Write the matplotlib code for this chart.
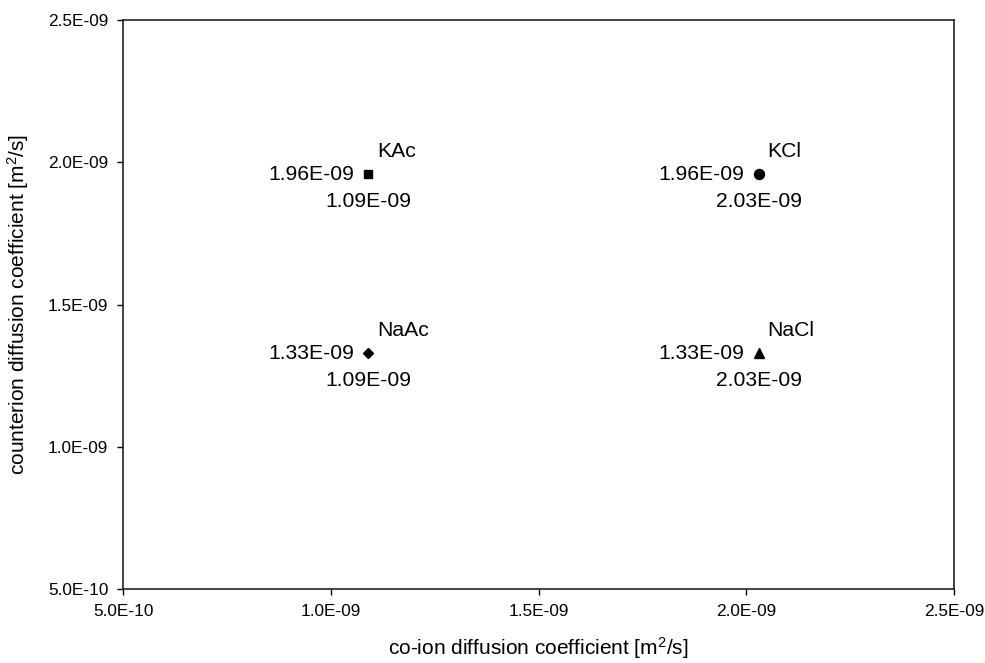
import matplotlib
matplotlib.use("Agg")
import matplotlib.pyplot as plt

plt.rcParams['font.family'] = ['Liberation Sans', 'DejaVu Sans']
plt.rcParams['mathtext.default'] = 'regular'

names = ["KAc", "KCl", "NaAc", "NaCl"]
coion = [1.09e-9, 2.03e-9, 1.09e-9, 2.03e-9]
counterion = [1.96e-9, 1.96e-9, 1.33e-9, 1.33e-9]
markers = ["s", "o", "D", "^"]
msizes = [6.3, 7.2, 5.5, 7.5]
ticks = [5.0e-10, 1.0e-9, 1.5e-9, 2.0e-9, 2.5e-9]
tick_labels = ["5.0E-10", "1.0E-09", "1.5E-09", "2.0E-09", "2.5E-09"]

W, H = 985, 663
fig = plt.figure(figsize=(W / 100, H / 100), dpi=100)
L, R, T, B = 123, 954, 20, 589
ax = fig.add_axes([L / W, 1 - B / H, (R - L) / W, (B - T) / H])

px = 0.72  # points per pixel
fs = 15.2
for n, x, y, m, s in zip(names, coion, counterion, markers, msizes):
    ax.plot([x], [y], marker=m, markersize=s, color='black', linestyle='none', clip_on=False)
    ax.annotate(f"{y:.2E}", (x, y), xytext=(-14 * px, -1 * px),
                textcoords='offset points', ha='right', va='center', fontsize=fs)
    ax.annotate(f"{x:.2E}", (x, y), xytext=(0, -28 * px),
                textcoords='offset points', ha='center', va='center', fontsize=fs)
    ax.annotate(n, (x, y), xytext=(9 * px, 22 * px),
                textcoords='offset points', ha='left', va='center', fontsize=fs)

ax.set_xlim(ticks[0], ticks[-1])
ax.set_ylim(ticks[0], ticks[-1])
ax.set_xticks(ticks)
ax.set_yticks(ticks)
ax.set_xticklabels(tick_labels, fontsize=12.4)
ax.set_yticklabels(tick_labels, fontsize=12.4)
ax.tick_params(direction='out', length=4.5, width=1, colors='black', pad=6)
for sp in ax.spines.values():
    sp.set_linewidth(1.2)
    sp.set_color('#222222')

ax.set_xlabel("co-ion diffusion coefficient [m$^2$/s]", fontsize=15, labelpad=12)
ax.set_ylabel("counterion diffusion coefficient [m$^2$/s]", fontsize=15, labelpad=12)

fig.savefig("out.png", dpi=100)
